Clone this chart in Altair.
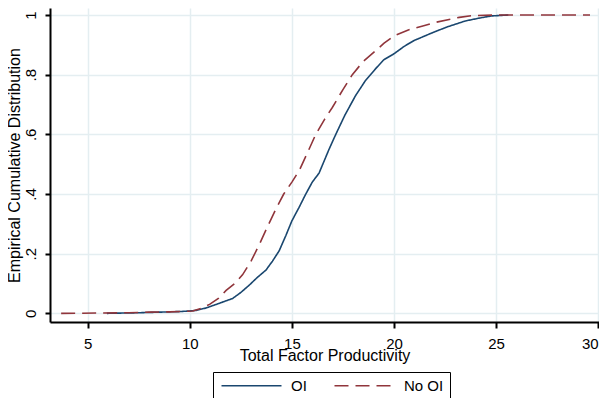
import altair as alt
import pandas as pd

# Empirical CDF
oi_x = [5.94, 7.5, 8.5, 9.5, 10.0, 10.32, 10.8, 11.29, 11.7, 12.1, 12.5, 12.92, 13.3, 13.73,
        14.05, 14.38, 14.7, 15.0, 15.35, 15.68, 16.0, 16.33, 16.82, 17.15, 17.6, 18.12, 18.6,
        19.1, 19.5, 20.0, 20.5, 21.0, 21.86, 22.6, 23.49, 24.2, 24.8, 25.6]
oi_f = [0.0, 0.002, 0.004, 0.006, 0.008, 0.01, 0.018, 0.03, 0.04, 0.05, 0.07, 0.095, 0.12, 0.145,
        0.175, 0.21, 0.26, 0.31, 0.355, 0.40, 0.44, 0.47, 0.55, 0.60, 0.665, 0.73, 0.78,
        0.82, 0.85, 0.87, 0.895, 0.915, 0.94, 0.96, 0.98, 0.99, 0.997, 1.0]

nooi_x = [3.7, 5.5, 7.0, 8.0, 9.0, 9.8, 10.15, 10.6, 10.97, 11.4, 11.78, 12.2, 12.59, 13.0,
          13.4, 13.8, 14.22, 14.6, 15.0, 15.37, 15.84, 16.17, 16.6, 16.98, 17.5, 17.96, 18.5,
          19.1, 19.5, 20.0, 20.7, 21.5, 22.0, 22.7, 23.2, 23.8, 25.0, 29.6]
nooi_f = [0.0, 0.001, 0.002, 0.004, 0.005, 0.007, 0.008, 0.018, 0.03, 0.05, 0.077, 0.10, 0.13, 0.175,
          0.23, 0.29, 0.35, 0.40, 0.44, 0.48, 0.55, 0.60, 0.65, 0.69, 0.75, 0.80, 0.845,
          0.88, 0.905, 0.93, 0.95, 0.965, 0.975, 0.985, 0.992, 0.998, 1.0, 1.0]

series = ["OI", "No OI"]
series_colors = ["#1a476f", "#90353b"]
x_ticks = [5, 10, 15, 20, 25, 30]
y_ticks = [0, 0.2, 0.4, 0.6, 0.8, 1]

df = pd.concat([
    pd.DataFrame({"tfp": oi_x, "ecdf": oi_f, "group": "OI", "ord": range(len(oi_x))}),
    pd.DataFrame({"tfp": nooi_x, "ecdf": nooi_f, "group": "No OI", "ord": range(len(nooi_x))}),
])

FONT = "Liberation Sans"

chart = alt.Chart(df).mark_line(strokeWidth=1.6).encode(
    x=alt.X("tfp:Q",
            scale=alt.Scale(domain=[3.154, 30.04], nice=False, zero=False),
            axis=alt.Axis(values=x_ticks, title="Total Factor Productivity",
                          tickSize=6, labelPadding=8, titleY=25, titleBaseline="top")),
    y=alt.Y("ecdf:Q",
            scale=alt.Scale(domain=[-0.029, 1.0235], nice=False, zero=False),
            axis=alt.Axis(values=y_ticks, title="Empirical Cumulative Distribution",
                          tickSize=5, labelAngle=270, labelAlign="center",
                          labelBaseline="bottom", labelPadding=7, titleX=-28,
                          titleBaseline="bottom",
                          labelExpr="datum.value == 0 ? '0' : (datum.value == 1 ? '1' : '.' + round(datum.value * 10))")),
    color=alt.Color("group:N", scale=alt.Scale(domain=series, range=series_colors),
                    legend=alt.Legend(title=None)),
    strokeDash=alt.StrokeDash("group:N", scale=alt.Scale(domain=series, range=[[1, 0], [14, 7]]),
                              legend=alt.Legend(title=None)),
    order=alt.Order("ord:Q"),
).properties(
    width=549,
    height=314,
    autosize=alt.AutoSizeParams(type="none"),
    padding={"left": 42, "top": 0, "right": 0, "bottom": 76},
).configure_view(
    stroke=None
).configure_axis(
    labelFont=FONT, titleFont=FONT, labelFontSize=15, titleFontSize=16,
    labelColor="black", titleColor="black", titleFontWeight="normal",
    domainColor="black", domainWidth=2, tickColor="black", tickWidth=2,
    gridColor="#e4eef1", gridWidth=1.5,
).configure_legend(
    orient="none", legendX=163, legendY=364, direction="horizontal", columns=2,
    strokeColor="black", padding=6, symbolType="M-1,0H11", symbolSize=100,
    symbolStrokeWidth=1.6, labelFont=FONT, labelFontSize=15, labelColor="black",
    labelOffset=57, columnPadding=24,
)

chart.save("out.html", embed_options={"renderer": "svg", "actions": False})
